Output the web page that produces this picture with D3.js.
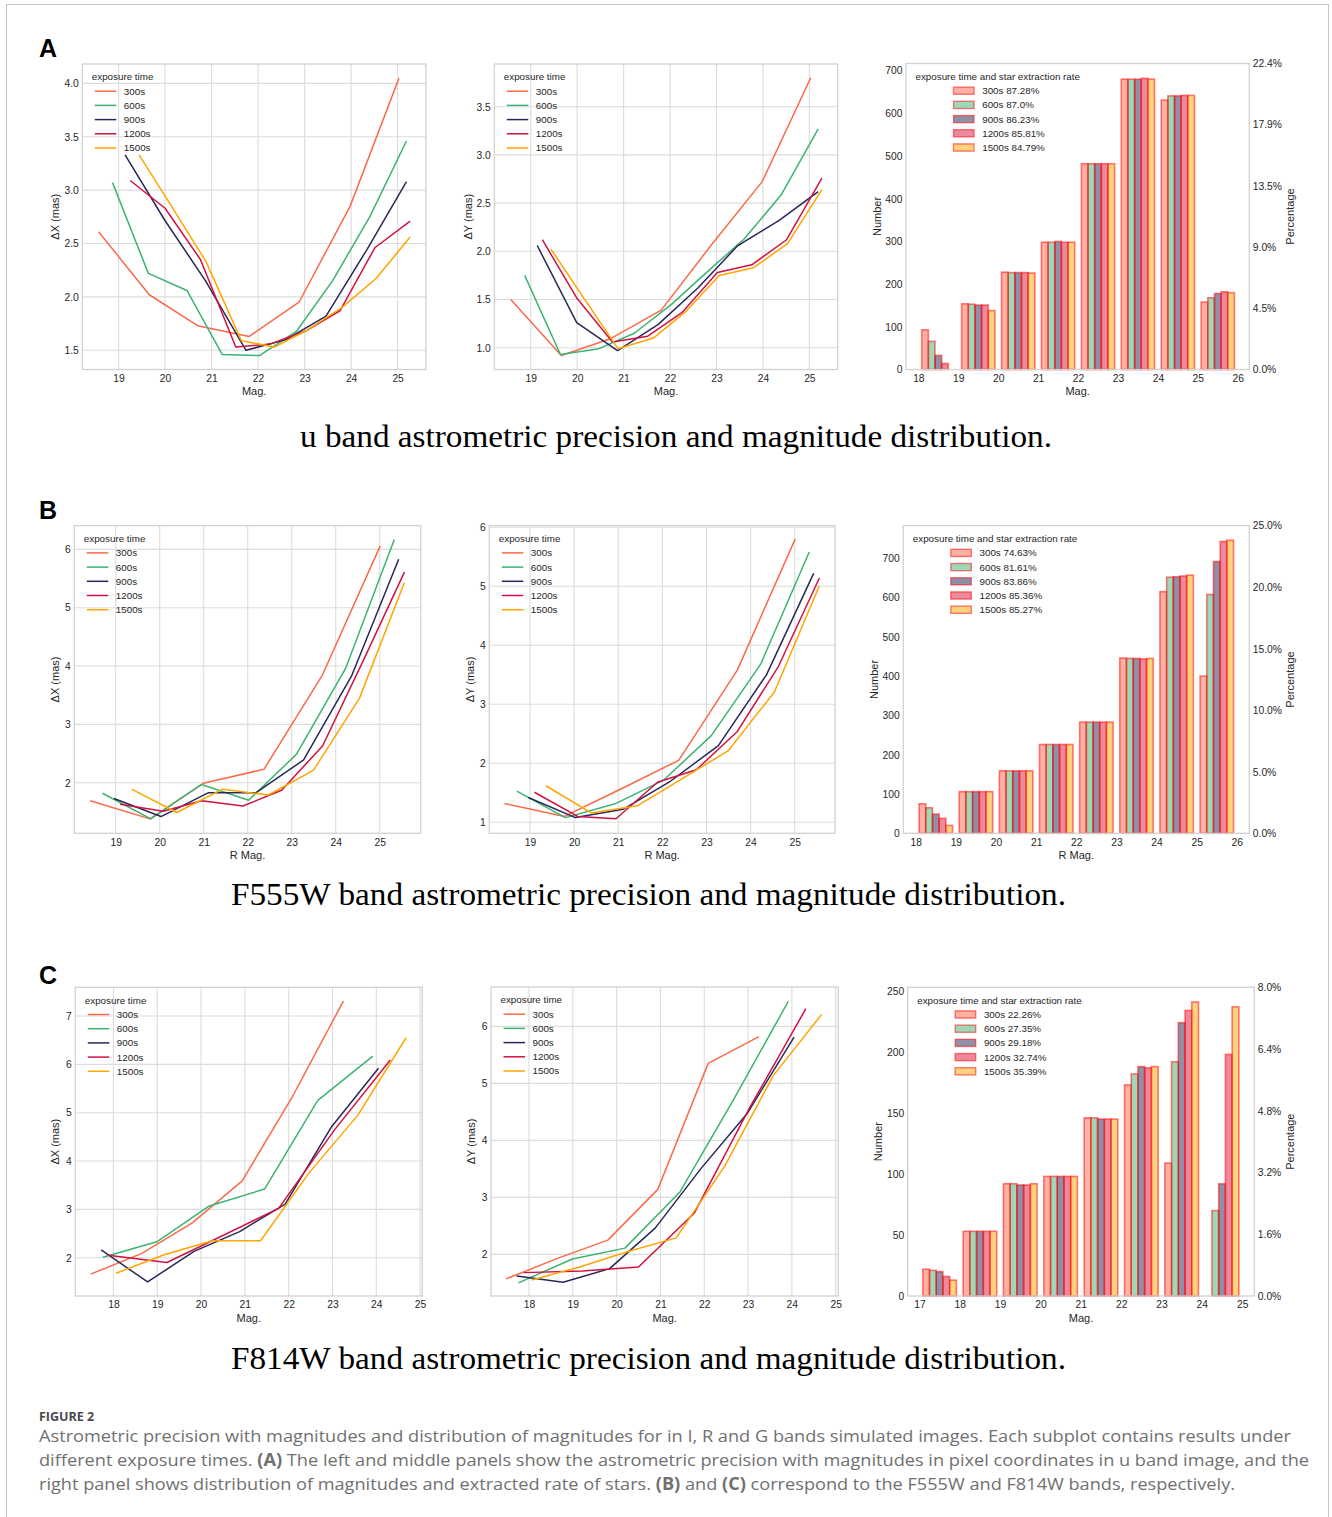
<!DOCTYPE html>
<html>
<head>
<meta charset="utf-8">
<style>
    body { margin: 0; background: #fff; }
    svg text { font-family: "Liberation Sans", Arial, sans-serif; }
</style>
</head>
<body>
<svg id="fig" width="1332" height="1517"></svg>
<script src="https://cdnjs.cloudflare.com/ajax/libs/d3/7.8.5/d3.min.js"></script>
<script>
    // ---- data ----
    var exposures = ["300s", "600s", "900s", "1200s", "1500s"];

    // u band: mean magnitude of each bin and precision, one row per exposure
    var uMag = [
        [18.57, 19.66, 20.70, 21.81, 22.88, 23.98, 25.03],
        [18.87, 19.64, 20.47, 21.23, 22.03, 22.83, 23.60, 24.40, 25.19],
        [19.14, 19.99, 20.87, 21.74, 22.60, 23.46, 24.35, 25.19],
        [19.25, 20.00, 20.76, 21.52, 22.27, 23.02, 23.76, 24.51, 25.27],
        [19.44, 20.15, 20.88, 21.64, 22.35, 23.06, 23.80, 24.53, 25.27]
    ];
    var uDX = [
        [2.61, 2.02, 1.73, 1.63, 1.95, 2.85, 4.05],
        [3.07, 2.22, 2.06, 1.46, 1.45, 1.68, 2.15, 2.75, 3.46],
        [3.33, 2.72, 2.15, 1.50, 1.60, 1.82, 2.45, 3.08],
        [3.09, 2.83, 2.35, 1.53, 1.56, 1.68, 1.87, 2.46, 2.71],
        [3.33, 2.84, 2.33, 1.59, 1.53, 1.69, 1.90, 2.17, 2.56]
    ];
    var uDY = [
        [1.50, 0.92, 1.09, 1.39, 2.06, 2.72, 3.80],
        [1.75, 0.93, 0.99, 1.15, 1.45, 1.80, 2.13, 2.59, 3.27],
        [2.06, 1.26, 0.97, 1.24, 1.62, 2.06, 2.32, 2.62],
        [2.12, 1.51, 1.06, 1.12, 1.37, 1.78, 1.86, 2.12, 2.76],
        [2.02, 1.51, 0.99, 1.10, 1.38, 1.75, 1.83, 2.08, 2.64]
    ];

    // F555W
    var fMag = [
        [18.42, 19.78, 20.99, 22.37, 23.70, 25.01],
        [18.70, 19.80, 20.95, 22.02, 23.11, 24.23, 25.33],
        [18.96, 20.03, 21.11, 22.19, 23.27, 24.36, 25.43],
        [19.10, 20.08, 20.95, 21.89, 22.77, 23.70, 24.63, 25.56],
        [19.36, 20.39, 21.43, 22.47, 23.49, 24.54, 25.56]
    ];
    var fDX = [
        [1.69, 1.38, 1.99, 2.23, 3.85, 6.06],
        [1.82, 1.38, 1.97, 1.70, 2.49, 3.97, 6.17],
        [1.73, 1.42, 1.83, 1.83, 2.39, 3.83, 5.83],
        [1.63, 1.51, 1.69, 1.60, 1.87, 2.63, 4.10, 5.61],
        [1.89, 1.49, 1.89, 1.79, 2.21, 3.45, 5.43]
    ];
    var fDY = [
        [1.32, 1.10, 1.54, 2.05, 3.58, 5.80],
        [1.53, 1.08, 1.32, 1.71, 2.47, 3.68, 5.58],
        [1.42, 1.08, 1.22, 1.70, 2.30, 3.50, 5.22],
        [1.51, 1.10, 1.06, 1.68, 1.89, 2.54, 3.64, 5.14],
        [1.62, 1.16, 1.28, 1.75, 2.21, 3.21, 5.01]
    ];

    // F814W
    var gMag = [
        [17.48, 18.65, 19.80, 20.94, 22.09, 23.25],
        [17.76, 18.99, 20.19, 21.45, 22.66, 23.92],
        [17.72, 18.78, 19.84, 20.88, 21.92, 22.98, 24.05],
        [17.88, 19.22, 20.50, 21.77, 23.05, 24.32],
        [18.06, 19.16, 20.26, 21.36, 22.46, 23.58, 24.68]
    ];
    var gDX = [
        [1.66, 2.09, 2.72, 3.59, 5.34, 7.31],
        [2.01, 2.33, 3.07, 3.42, 5.25, 6.17],
        [2.16, 1.50, 2.13, 2.54, 3.11, 4.71, 5.92],
        [2.05, 1.90, 2.46, 3.02, 4.65, 6.09],
        [1.68, 2.06, 2.35, 2.35, 3.75, 4.95, 6.55]
    ];
    var gDY = [
        [1.57, 1.93, 2.25, 3.14, 5.35, 5.82],
        [1.50, 1.92, 2.11, 3.10, 4.70, 6.44],
        [1.62, 1.51, 1.75, 2.46, 3.50, 4.47, 5.81],
        [1.68, 1.71, 1.78, 2.72, 4.59, 6.31],
        [1.55, 1.78, 2.05, 2.29, 3.54, 5.14, 6.21]
    ];

    // magnitude histograms (bin starts, counts per exposure)
    var uBins = [18, 19, 20, 21, 22, 23, 24, 25];
    var uCounts = [
        [93, 154, 228, 298, 482, 680, 631, 158],
        [66, 153, 227, 298, 482, 680, 641, 168],
        [33, 151, 227, 300, 482, 680, 641, 178],
        [14, 151, 227, 298, 482, 682, 642, 182],
        [0, 138, 226, 298, 482, 680, 642, 180]
    ];
    var uRates = ["87.28%", "87.0%", "86.23%", "85.81%", "84.79%"];
    var uPctTicks = ["0.0%", "4.5%", "9.0%", "13.5%", "17.9%", "22.4%"];

    var fBins = [18, 19, 20, 21, 22, 23, 24, 25];
    var fCounts = [
        [75, 106, 159, 226, 283, 446, 615, 400],
        [65, 106, 159, 226, 283, 445, 652, 608],
        [49, 106, 159, 226, 283, 445, 653, 692],
        [38, 106, 159, 226, 283, 444, 655, 743],
        [20, 106, 159, 226, 283, 445, 657, 746]
    ];
    var fRates = ["74.63%", "81.61%", "83.86%", "85.36%", "85.27%"];
    var fPctTicks = ["0.0%", "5.0%", "10.0%", "15.0%", "20.0%", "25.0%"];

    var gBins = [17, 18, 19, 20, 21, 22, 23, 24];
    var gCounts = [
        [22, 53, 92, 98, 146, 173, 109, 0],
        [21, 53, 92, 98, 146, 182, 192, 70],
        [20, 53, 91, 98, 145, 188, 224, 92],
        [16, 53, 91, 98, 145, 187, 234, 198],
        [13, 53, 92, 98, 145, 188, 241, 237]
    ];
    var gRates = ["22.26%", "27.35%", "29.18%", "32.74%", "35.39%"];
    var gPctTicks = ["0.0%", "1.6%", "3.2%", "4.8%", "6.4%", "8.0%"];

    // ---- drawing ----
    var lineColors = ["#fa6a48", "#3cb371", "#282858", "#cf1241", "#ffa500"];
    var barColors = ["#ff6347", "#3cb371", "#1f1f52", "#dc143c", "#ffa500"];
    var txt = "#262626";

    var svg = d3.select("#fig");
    svg.append("rect").attr("x", 6.5).attr("y", 4.5).attr("width", 1322).attr("height", 1530)
        .attr("fill", "none").attr("stroke", "#c4c4c4");

    function range(a, b, s) { return d3.range(a, b + s / 2, s); }

    function styleAxis(a, size) {
        a.select(".domain").remove();
        a.selectAll("text").attr("fill", txt).style("font-size", size + "px")
            .style("font-family", '"Liberation Sans", Arial, sans-serif');
    }

    function frame(g, p) {
        g.append("rect").attr("x", p.l).attr("y", p.t).attr("width", p.r - p.l).attr("height", p.b - p.t)
            .attr("fill", "none").attr("stroke", "#d2d2d2").attr("stroke-width", 1.3);
    }

    function labels(g, p) {
        g.append("text").attr("x", (p.l + p.r) / 2).attr("y", p.b + 21.7).attr("dy", "0.35em")
            .attr("text-anchor", "middle").attr("fill", txt).style("font-size", "11px").text(p.xLabel);
        g.append("text").attr("transform", "translate(" + (p.l - p.yOff) + "," + ((p.t + p.b) / 2) + ") rotate(-90)")
            .attr("dy", "0.35em").attr("text-anchor", "middle").attr("fill", txt).style("font-size", "11px").text(p.yLabel);
    }

    function linePanel(p, mags, vals) {
        var g = svg.append("g");
        var x = d3.scaleLinear().domain(p.xDomain).range([p.l, p.r]);
        var y = d3.scaleLinear().domain(p.yDomain).range([p.b, p.t]);

        g.selectAll(".gx").data(p.xTicks).join("line")
            .attr("x1", d => x(d)).attr("x2", d => x(d)).attr("y1", p.t).attr("y2", p.b)
            .attr("stroke", "#dcdcdc").attr("stroke-width", 1.1);
        g.selectAll(".gy").data(p.yTicks).join("line")
            .attr("y1", d => y(d)).attr("y2", d => y(d)).attr("x1", p.l).attr("x2", p.r)
            .attr("stroke", "#dcdcdc").attr("stroke-width", 1.1);
        frame(g, p);

        g.append("g").attr("transform", "translate(0," + p.b + ")")
            .call(d3.axisBottom(x).tickValues(p.xTicks).tickSize(0).tickPadding(5).tickFormat(d3.format("d")))
            .call(a => styleAxis(a, 10.3));
        g.append("g").attr("transform", "translate(" + p.l + ",0)")
            .call(d3.axisLeft(y).tickValues(p.yTicks).tickSize(0).tickPadding(3.5).tickFormat(d3.format(p.yFmt)))
            .call(a => styleAxis(a, 10.3));

        var line = d3.line().x(d => x(d[0])).y(d => y(d[1]));
        exposures.forEach(function (e, i) {
            var pts = mags[i].map((m, k) => [m, vals[i][k]]);
            g.append("path").attr("d", line(pts)).attr("fill", "none")
                .attr("stroke", lineColors[i]).attr("stroke-width", 1.5).attr("stroke-linejoin", "round");
        });

        // legend
        var lx = p.l + 9.5, ly = p.t + 13;
        g.append("text").attr("x", lx).attr("y", ly).attr("dy", "0.35em").attr("fill", txt)
            .style("font-size", "9.8px").text("exposure time");
        exposures.forEach(function (e, i) {
            var yy = ly + 14.2 * (i + 1);
            g.append("line").attr("x1", lx + 3).attr("x2", lx + 24.5).attr("y1", yy).attr("y2", yy)
                .attr("stroke", lineColors[i]).attr("stroke-width", 1.5);
            g.append("text").attr("x", lx + 32).attr("y", yy).attr("dy", "0.35em").attr("fill", txt)
                .style("font-size", "9.8px").text(e);
        });
        labels(g, p);
    }

    function barPanel(p, bins, counts, rates, pctTicks) {
        var g = svg.append("g");
        var x = d3.scaleLinear().domain(p.xDomain).range([p.l, p.r]);
        var y = d3.scaleLinear().domain(p.yDomain).range([p.b, p.t]);
        var yR = d3.scaleLinear().domain([0, pctTicks.length - 1]).range([p.b, p.t]);
        var w = 1 / 6;

        exposures.forEach(function (e, i) {
            bins.forEach(function (b, k) {
                var v = counts[i][k];
                if (!v) return;
                var x0 = b + 1 / 12 + i * w;
                g.append("rect").attr("x", x(x0)).attr("width", x(x0 + w) - x(x0))
                    .attr("y", y(v)).attr("height", y(0) - y(v))
                    .attr("fill", barColors[i]).attr("fill-opacity", 0.5)
                    .attr("stroke", "#ff0000").attr("stroke-opacity", 0.5).attr("stroke-width", 1.6);
            });
        });
        frame(g, p);

        g.append("g").attr("transform", "translate(0," + p.b + ")")
            .call(d3.axisBottom(x).tickValues(p.xTicks).tickSize(0).tickPadding(5).tickFormat(d3.format("d")))
            .call(a => styleAxis(a, 10.3));
        g.append("g").attr("transform", "translate(" + p.l + ",0)")
            .call(d3.axisLeft(y).tickValues(p.yTicks).tickSize(0).tickPadding(3.5).tickFormat(d3.format("d")))
            .call(a => styleAxis(a, 10.3));
        g.append("g").attr("transform", "translate(" + p.r + ",0)")
            .call(d3.axisRight(yR).tickValues(d3.range(pctTicks.length)).tickSize(0).tickPadding(3.5).tickFormat(i => pctTicks[i]))
            .call(a => styleAxis(a, 10.3));

        var lx = p.l + 9.5, ly = p.t + 13;
        g.append("text").attr("x", lx).attr("y", ly).attr("dy", "0.35em").attr("fill", txt)
            .style("font-size", "9.8px").text("exposure time and star extraction rate");
        exposures.forEach(function (e, i) {
            var yy = ly + 14.2 * (i + 1);
            g.append("rect").attr("x", lx + 38).attr("width", 20.5).attr("y", yy - 3.6).attr("height", 7.2)
                .attr("fill", barColors[i]).attr("fill-opacity", 0.5)
                .attr("stroke", "#ff0000").attr("stroke-opacity", 0.5).attr("stroke-width", 1.4);
            g.append("text").attr("x", lx + 66.7).attr("y", yy).attr("dy", "0.35em").attr("fill", txt)
                .style("font-size", "9.8px").text(e + " " + rates[i]);
        });
        labels(g, p);
        g.append("text").attr("transform", "translate(" + (p.r + p.pOff) + "," + ((p.t + p.b) / 2) + ") rotate(-90)")
            .attr("dy", "0.35em").attr("text-anchor", "middle").attr("fill", txt).style("font-size", "11px").text("Percentage");
    }

    // row A
    linePanel({ l: 82.3, r: 426, t: 64, b: 369.5, xDomain: [18.22, 25.61], yDomain: [1.320, 4.181],
        xTicks: range(19, 25, 1), yTicks: range(1.5, 4, 0.5), yFmt: ".1f",
        xLabel: "Mag.", yLabel: "ΔX (mas)", yOff: 27.3 }, uMag, uDX);
    linePanel({ l: 494.3, r: 837.7, t: 64, b: 369.5, xDomain: [18.216, 25.61], yDomain: [0.774, 3.943],
        xTicks: range(19, 25, 1), yTicks: range(1, 3.5, 0.5), yFmt: ".1f",
        xLabel: "Mag.", yLabel: "ΔY (mas)", yOff: 26 }, uMag, uDY);
    barPanel({ l: 906, r: 1249.3, t: 63.5, b: 369.5, xDomain: [17.69, 26.29], yDomain: [0, 716.8],
        xTicks: range(18, 26, 1), yTicks: range(0, 700, 100),
        xLabel: "Mag.", yLabel: "Number", yOff: 29.3, pOff: 40.7 }, uBins, uCounts, uRates, uPctTicks);

    // row B
    linePanel({ l: 74.3, r: 420.7, t: 525.7, b: 833.3, xDomain: [18.06, 25.93], yDomain: [1.133, 6.405],
        xTicks: range(19, 25, 1), yTicks: range(2, 6, 1), yFmt: "d",
        xLabel: "R Mag.", yLabel: "ΔX (mas)", yOff: 19.3 }, fMag, fDX);
    linePanel({ l: 489.3, r: 835, t: 525.7, b: 833.3, xDomain: [18.077, 25.914], yDomain: [0.814, 6.027],
        xTicks: range(19, 25, 1), yTicks: range(1, 6, 1), yFmt: "d",
        xLabel: "R Mag.", yLabel: "ΔY (mas)", yOff: 19.3 }, fMag, fDY);
    barPanel({ l: 903.3, r: 1249.3, t: 525.7, b: 833.3, xDomain: [17.69, 26.31], yDomain: [0, 783],
        xTicks: range(18, 26, 1), yTicks: range(0, 700, 100),
        xLabel: "R Mag.", yLabel: "Number", yOff: 29.3, pOff: 40.7 }, fBins, fCounts, fRates, fPctTicks);

    // row C
    linePanel({ l: 75.3, r: 422.3, t: 987.3, b: 1296, xDomain: [17.13, 25.05], yDomain: [1.208, 7.594],
        xTicks: range(18, 25, 1), yTicks: range(2, 7, 1), yFmt: "d",
        xLabel: "Mag.", yLabel: "ΔX (mas)", yOff: 20 }, gMag, gDX);
    linePanel({ l: 491, r: 838.3, t: 987, b: 1296, xDomain: [17.133, 25.06], yDomain: [1.27, 6.69],
        xTicks: range(18, 25, 1), yTicks: range(2, 6, 1), yFmt: "d",
        xLabel: "Mag.", yLabel: "ΔY (mas)", yOff: 20 }, gMag, gDY);
    barPanel({ l: 907.7, r: 1254.3, t: 987.3, b: 1296, xDomain: [16.71, 25.3], yDomain: [0, 253],
        xTicks: range(17, 25, 1), yTicks: range(0, 250, 50),
        xLabel: "Mag.", yLabel: "Number", yOff: 29.4, pOff: 35.7 }, gBins, gCounts, gRates, gPctTicks);

    // panel letters and row titles
    [["A", 57], ["B", 519], ["C", 984]].forEach(function (d) {
        svg.append("text").attr("x", 39).attr("y", d[1]).attr("fill", "#000")
            .style("font-size", "25px").style("font-weight", "bold").text(d[0]);
    });
    [["u band astrometric precision and magnitude distribution.", 676, 447, 752],
     ["F555W band astrometric precision and magnitude distribution.", 648.5, 905, 835],
     ["F814W band astrometric precision and magnitude distribution.", 648.5, 1369, 835]].forEach(function (d) {
        svg.append("text").attr("x", d[1]).attr("y", d[2]).attr("text-anchor", "middle")
            .attr("textLength", d[3]).attr("lengthAdjust", "spacingAndGlyphs")
            .attr("fill", "#000").style("font-family", '"Liberation Serif", "Times New Roman", serif')
            .style("font-size", "31.5px").text(d[0]);
    });

    // caption
    svg.append("text").attr("x", 39).attr("y", 1421).attr("fill", "#4a4a4a")
        .style("font-family", '"Open Sans", sans-serif').style("font-size", "12.5px").style("font-weight", "bold")
        .text("FIGURE 2");
    var capLines = [
        [["Astrometric precision with magnitudes and distribution of magnitudes for in I, R and G bands simulated images. Each subplot contains results under", false]],
        [["different exposure times. ", false], ["(A)", true], [" The left and middle panels show the astrometric precision with magnitudes in pixel coordinates in u band image, and the", false]],
        [["right panel shows distribution of magnitudes and extracted rate of stars. ", false], ["(B)", true], [" and ", false], ["(C)", true], [" correspond to the F555W and F814W bands, respectively.", false]]
    ];
    var capWidths = [1252, 1270, 1196];
    capLines.forEach(function (parts, i) {
        var t = svg.append("text").attr("x", 39).attr("y", 1442 + 24 * i).attr("fill", "#707070")
            .attr("textLength", capWidths[i]).attr("lengthAdjust", "spacingAndGlyphs")
            .style("font-family", '"Open Sans", sans-serif').style("font-size", "17px");
        parts.forEach(function (p) {
            t.append("tspan").style("font-weight", p[1] ? "bold" : "normal").text(p[0]);
        });
    });
</script>
</body>
</html>
